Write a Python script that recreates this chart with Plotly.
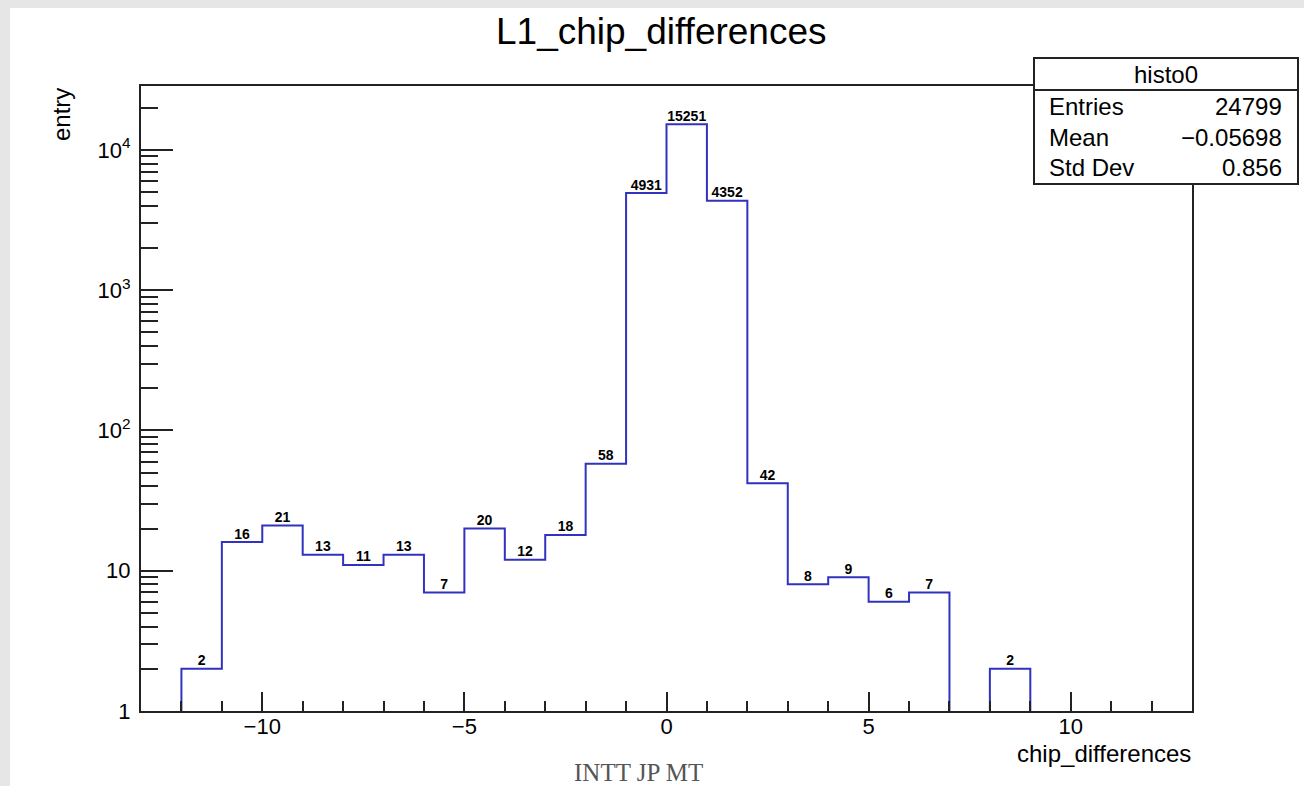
import plotly.graph_objects as go

# Histogram contents: unit-width bins of chip_differences
bin_edges = [-12, -11, -10, -9, -8, -7, -6, -5, -4, -3, -2, -1, 0, 1, 2, 3, 4, 5, 6, 7, 8, 9]
counts = [2, 16, 21, 13, 11, 13, 7, 20, 12, 18, 58, 4931, 15251, 4352, 42, 8, 9, 6, 7, 0, 2]

stats_title = "histo0"
stats_names = ["Entries", "Mean", "Std Dev"]
stats_values = ["24799", "\u22120.05698", "0.856"]

y_major = [1, 10, 100, 1000, 10000]
y_major_text = ["1", "10", "10<sup>2</sup>", "10<sup>3</sup>", "10<sup>4</sup>"]
y_minor = [m * 10 ** d for d in range(0, 5) for m in range(2, 10) if m * 10 ** d < 28000]

W, H = 1304, 786
L, R, T, B = 141, 1192, 86, 711  # plot frame in pixels
YMIN = 1.0
FONT = "Liberation Sans, Arial, Helvetica, sans-serif"


def px_x(px):
    return (px - L) / (R - L)


def px_y(py):
    return (B - py) / (B - T)


# Step outline (ROOT-style histogram line); empty bins break the line at the axis floor
sx, sy = [bin_edges[0]], [YMIN]
prev_empty = False
for i, c in enumerate(counts):
    if c > 0:
        if prev_empty:
            sx += [None, bin_edges[i]]
            sy += [None, YMIN]
        sx += [bin_edges[i], bin_edges[i + 1]]
        sy += [c, c]
        prev_empty = False
    else:
        sx.append(bin_edges[i])
        sy.append(YMIN)
        prev_empty = True
sx.append(bin_edges[-1])
sy.append(YMIN)

centers = [(bin_edges[i] + bin_edges[i + 1]) / 2 for i in range(len(counts))]
lab_x = [x for x, c in zip(centers, counts) if c > 0]
lab_y = [c for c in counts if c > 0]
lab_t = [str(c) for c in counts if c > 0]

fig = go.Figure()
fig.add_trace(go.Scatter(x=sx, y=sy, mode="lines", connectgaps=False,
                         line=dict(color="#3232c0", width=2), hoverinfo="skip",
                         showlegend=False, cliponaxis=False))
fig.add_trace(go.Scatter(x=lab_x, y=lab_y, mode="text", text=lab_t,
                         textposition="top center",
                         textfont=dict(family=FONT, size=14, color="black", weight="bold"),
                         showlegend=False, cliponaxis=False))

fig.update_xaxes(range=[-13, 13], tick0=0, dtick=5, ticks="inside", ticklen=19,
                 tickwidth=1.5, tickcolor="#222", showgrid=False, zeroline=False,
                 showline=True, mirror=True, linecolor="#222", linewidth=2,
                 tickfont=dict(family=FONT, size=22, color="black"),
                 ticklabelstandoff=-5,
                 minor=dict(dtick=1, tick0=0, ticks="inside", ticklen=10,
                            tickwidth=1.5, tickcolor="#222", showgrid=False))
fig.update_yaxes(type="log", range=[0, 4.456], tickmode="array", tickvals=y_major,
                 ticktext=y_major_text, ticks="inside", ticklen=32, tickwidth=1.5,
                 tickcolor="#222", showgrid=False, zeroline=False,
                 showline=True, mirror=True, linecolor="#222", linewidth=2,
                 tickfont=dict(family=FONT, size=22, color="black"),
                 ticklabelstandoff=4,
                 minor=dict(tickmode="array", tickvals=y_minor, ticks="inside",
                            ticklen=17, tickwidth=1.5, tickcolor="#222", showgrid=False))

shapes = [
    # grey page edges
    dict(type="rect", xref="paper", yref="paper", x0=px_x(0), x1=px_x(W), y0=px_y(0), y1=px_y(8),
         fillcolor="#e6e6e6", line=dict(width=0), layer="below"),
    dict(type="rect", xref="paper", yref="paper", x0=px_x(0), x1=px_x(10), y0=px_y(0), y1=px_y(H),
         fillcolor="#e6e6e6", line=dict(width=0), layer="below"),
    # statistics box
    dict(type="rect", xref="paper", yref="paper", x0=px_x(1034), x1=px_x(1298), y0=px_y(58), y1=px_y(184),
         fillcolor="white", line=dict(color="#222", width=2), layer="above"),
    dict(type="line", xref="paper", yref="paper", x0=px_x(1034), x1=px_x(1298), y0=px_y(90), y1=px_y(90),
         line=dict(color="#222", width=2), layer="above"),
]

annotations = [
    dict(text="L1_chip_differences", x=px_x(661), y=px_y(32), xref="paper", yref="paper",
         xanchor="center", yanchor="middle", showarrow=False,
         font=dict(family=FONT, size=37, color="black")),
    dict(text="entry", x=px_x(61), y=px_y(115), xref="paper", yref="paper", textangle=-90,
         xanchor="center", yanchor="middle", showarrow=False,
         font=dict(family=FONT, size=24, color="black")),
    dict(text="chip_differences", x=px_x(1193), y=px_y(753), xref="paper", yref="paper",
         xanchor="right", yanchor="middle", showarrow=False,
         font=dict(family=FONT, size=24, color="black")),
    dict(text="INTT JP MT", x=px_x(638), y=px_y(772), xref="paper", yref="paper",
         xanchor="center", yanchor="middle", showarrow=False,
         font=dict(family="Liberation Serif, Times New Roman, serif", size=25, color="#555")),
    dict(text=stats_title, x=px_x(1166), y=px_y(75), xref="paper", yref="paper",
         xanchor="center", yanchor="middle", showarrow=False,
         font=dict(family=FONT, size=24, color="black")),
]
for i, (n, v) in enumerate(zip(stats_names, stats_values)):
    yy = px_y(107 + 30 * i)
    annotations.append(dict(text=n, x=px_x(1047), y=yy, xref="paper", yref="paper",
                            xanchor="left", yanchor="middle", showarrow=False,
                            font=dict(family=FONT, size=24, color="black")))
    annotations.append(dict(text=v, x=px_x(1284), y=yy, xref="paper", yref="paper",
                            xanchor="right", yanchor="middle", showarrow=False,
                            font=dict(family=FONT, size=24, color="black")))

fig.update_layout(width=W, height=H, margin=dict(l=L, r=W - R, t=T, b=H - B, pad=0),
                  paper_bgcolor="white", plot_bgcolor="white",
                  shapes=shapes, annotations=annotations, showlegend=False)

fig.write_html("out.html")
